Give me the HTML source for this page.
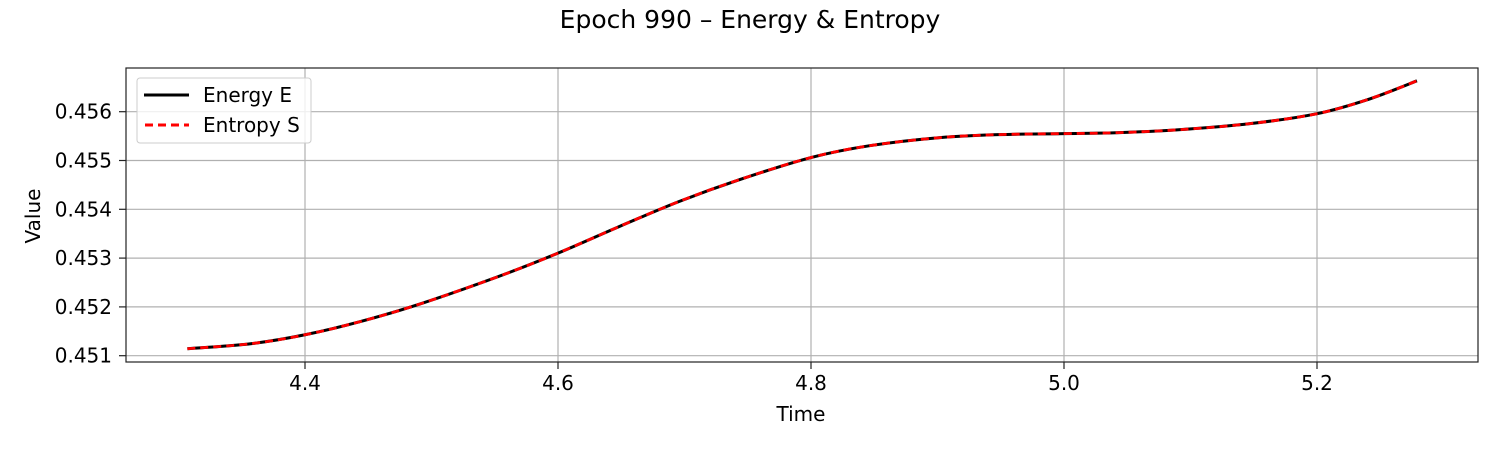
<!DOCTYPE html>
<html><head><meta charset="utf-8"><style>
body{margin:0;background:#fff;}
svg{display:block;font-family:"DejaVu Sans","Liberation Sans",sans-serif;}
</style></head><body>
<svg id="chart" width="1500" height="450">
<text x="750" y="28" text-anchor="middle" font-size="25" fill="#000">Epoch 990 – Energy &amp; Entropy</text>
<g id="grid"></g>
<g id="axes"></g>
<g id="series"></g>
<rect x="126" y="68" width="1352" height="294" fill="none" stroke="#222" stroke-width="1.2"/>
<text x="801" y="421" text-anchor="middle" font-size="20">Time</text>
<text x="0" y="0" transform="translate(40,216) rotate(-90)" text-anchor="middle" font-size="20">Value</text>
<g>
<rect x="137" y="78" width="174" height="65" rx="3" fill="#fff" fill-opacity="0.8" stroke="#ccc"/>
<g>
<line x1="144" y1="95" x2="189" y2="95" stroke="#000" stroke-width="3"/>
<text x="203" y="102" font-size="20">Energy E</text></g>
<g>
<line x1="145" y1="125" x2="189" y2="125" stroke="#f00" stroke-width="3" stroke-dasharray="8,5"/>
<text x="203" y="132" font-size="20">Entropy S</text></g>
</g>
</svg>
<script>
const times=[4.307,4.357,4.4,4.443,4.491,4.554,4.6,4.649,4.696,4.744,4.8,4.847,4.902,4.949,5.0,5.044,5.092,5.147,5.2,5.242,5.279];
const energy=[0.451143,0.451245,0.451429,0.451694,0.452061,0.452633,0.453102,0.453653,0.454163,0.454612,0.455061,0.455306,0.455469,0.455531,0.455551,0.455571,0.455633,0.455755,0.455959,0.456265,0.456633];
const entropy=[0.451143,0.451245,0.451429,0.451694,0.452061,0.452633,0.453102,0.453653,0.454163,0.454612,0.455061,0.455306,0.455469,0.455531,0.455551,0.455571,0.455633,0.455755,0.455959,0.456265,0.456633];
const xTicks=[4.4,4.6,4.8,5.0,5.2];
const xTickLabels=["4.4","4.6","4.8","5.0","5.2"];
const yTicks=[0.451,0.452,0.453,0.454,0.455,0.456];
const yTickLabels=["0.451","0.452","0.453","0.454","0.455","0.456"];

const NS="http://www.w3.org/2000/svg";
function xs(v){return 305+(v-4.4)*1265;}
function ys(v){return 355.7-(v-0.451)*48800;}
function mk(tag,attrs,parent){const e=document.createElementNS(NS,tag);for(const k in attrs)e.setAttribute(k,attrs[k]);parent.appendChild(e);return e;}
const grid=document.getElementById('grid'),axes=document.getElementById('axes'),series=document.getElementById('series');
xTicks.forEach((t,i)=>{const x=xs(t);
 const g=mk('line',{x1:x,y1:68,x2:x,y2:362,stroke:'#b0b0b0','stroke-width':1.2},grid);
 
 
 mk('line',{x1:x,y1:362,x2:x,y2:369,stroke:'#222','stroke-width':1.2},axes);
 const tx=mk('text',{x:x,y:390,'text-anchor':'middle','font-size':20},axes);tx.textContent=xTickLabels[i];
 
 
});
yTicks.forEach((t,i)=>{const y=ys(t);
 const g=mk('line',{x1:126,y1:y,x2:1478,y2:y,stroke:'#b0b0b0','stroke-width':1.2},grid);
 
 
 mk('line',{x1:119,y1:y,x2:126,y2:y,stroke:'#222','stroke-width':1.2},axes);
 const tx=mk('text',{x:112,y:y+7,'text-anchor':'end','font-size':20},axes);tx.textContent=yTickLabels[i];
 
 
});
function path(vals){
 const p=times.map((t,i)=>[xs(t),ys(vals[i])]);
 let d='M'+p[0][0]+','+p[0][1];
 for(let i=0;i<p.length-1;i++){
  const p0=p[i-1]||p[i],p1=p[i],p2=p[i+1],p3=p[i+2]||p2;
  d+=' C'+(p1[0]+(p2[0]-p0[0])/6)+','+(p1[1]+(p2[1]-p0[1])/6)+' '+(p2[0]-(p3[0]-p1[0])/6)+','+(p2[1]-(p3[1]-p1[1])/6)+' '+p2[0]+','+p2[1];
 }
 return d;
}
const e=mk('path',{d:path(energy),fill:'none',stroke:'#000','stroke-width':3},series);


const s=mk('path',{d:path(entropy),fill:'none',stroke:'#f00','stroke-width':2.8,'stroke-dasharray':'8,5'},series);


</script>
</body></html>
